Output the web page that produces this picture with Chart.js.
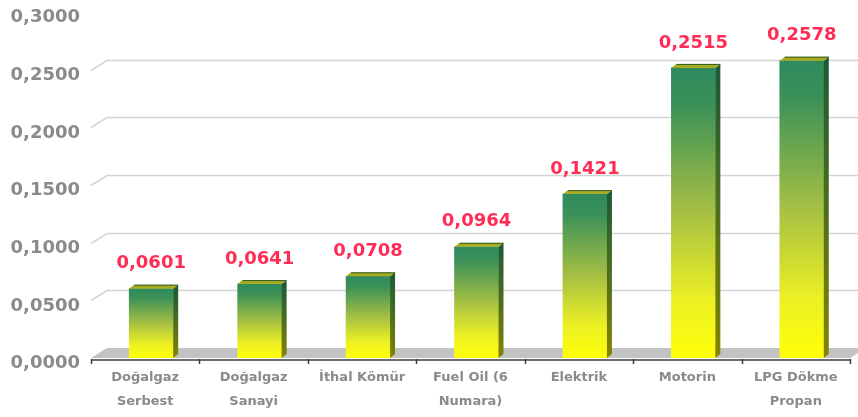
<!DOCTYPE html>
<html>
<head>
<meta charset="utf-8">
<script src="https://cdn.jsdelivr.net/npm/chart.js@4.4.1/dist/chart.umd.min.js"></script>
<style>
  html, body { margin: 0; padding: 0; background: #fff; }
  #wrap { width: 858px; height: 417px; }
</style>
</head>
<body>
<div id="wrap"><canvas id="chart" width="858" height="417"></canvas></div>
<script>
// -------------------------------
// DONNEES
// -------------------------------
const CATEGORIES = [
  ["Doğalgaz", "Serbest"],
  ["Doğalgaz", "Sanayi"],
  "İthal Kömür",
  ["Fuel Oil (6", "Numara)"],
  "Elektrik",
  "Motorin",
  ["LPG Dökme", "Propan"]
];
const VALUES = [0.0601, 0.0641, 0.0708, 0.0964, 0.1421, 0.2515, 0.2578];
const Y_MIN = 0;
const Y_MAX = 0.3;
const Y_STEP = 0.05;

// effet 3D
const DEPTH_X = 16, DEPTH_Y = 10;   // profondeur du sol / mur
const BAR_DX = 5, BAR_DY = 4;       // profondeur des barres
const SHIFT = 6;                    // décalage des barres vers la droite
const FONT = "'DejaVu Sans', Verdana, sans-serif";

function fmt(v) {
  return v.toFixed(4).replace(".", ",");
}

// degrade vert -> jaune pour chaque barre
function barGradient(c) {
  const chart = c.chart;
  if (!chart.chartArea || c.type !== "data") return "#2e8b5e";
  const y = chart.scales.y;
  const top = y.getPixelForValue(c.parsed.y);
  const bot = y.getPixelForValue(0);
  const g = chart.ctx.createLinearGradient(0, top, 0, bot);
  g.addColorStop(0, "#2e8b5e");
  g.addColorStop(0.12, "#3a9058");
  g.addColorStop(0.5, "#a6c043");
  g.addColorStop(0.8, "#ecf024");
  g.addColorStop(1, "#ffff08");
  return g;
}

// -------------------------------
// PLUGIN : mur, sol et faces 3D
// -------------------------------
const wall3d = {
  id: "wall3d",
  beforeDatasetsDraw(chart) {
    const ctx = chart.ctx;
    const area = chart.chartArea;
    const y = chart.scales.y;
    const base = y.getPixelForValue(0);

    ctx.save();
    // lignes de grille sur le mur du fond
    ctx.strokeStyle = "#d4d4d4";
    ctx.lineWidth = 1.5;
    y.ticks.forEach(t => {
      if (t.value <= Y_MIN || t.value >= Y_MAX) return;
      const py = Math.round(y.getPixelForValue(t.value)) + 0.5;
      ctx.beginPath();
      ctx.moveTo(area.left, py);
      ctx.lineTo(area.left + DEPTH_X, py - DEPTH_Y);
      ctx.lineTo(chart.width, py - DEPTH_Y);
      ctx.stroke();
    });

    // sol gris
    ctx.fillStyle = "#c3c3c3";
    ctx.beginPath();
    ctx.moveTo(area.left, base);
    ctx.lineTo(area.right, base);
    ctx.lineTo(area.right + DEPTH_X, base - DEPTH_Y);
    ctx.lineTo(area.left + DEPTH_X, base - DEPTH_Y);
    ctx.closePath();
    ctx.fill();

    // axe X et graduations
    ctx.strokeStyle = "#3c3c3c";
    ctx.lineWidth = 1.5;
    ctx.beginPath();
    ctx.moveTo(area.left, base + 2);
    ctx.lineTo(area.right, base + 2);
    const step = (area.right - area.left) / CATEGORIES.length;
    for (let i = 0; i <= CATEGORIES.length; i++) {
      const px = Math.round(area.left + i * step) + 0.5;
      ctx.moveTo(px, base + 1);
      ctx.lineTo(px, base + 6);
    }
    ctx.stroke();
    ctx.restore();

    // decaler les barres
    ctx.save();
    ctx.translate(SHIFT, 0);
  },
  afterDatasetsDraw(chart) {
    const ctx = chart.ctx;
    ctx.restore();

    const meta = chart.getDatasetMeta(0);
    meta.data.forEach((bar, i) => {
      const x0 = bar.x - bar.width / 2 + SHIFT;
      const x1 = bar.x + bar.width / 2 + SHIFT;
      const top = bar.y;
      const bot = bar.base;

      ctx.save();
      // face laterale
      const sg = ctx.createLinearGradient(0, top, 0, bot);
      sg.addColorStop(0, "#1d5a36");
      sg.addColorStop(0.5, "#4e6e1c");
      sg.addColorStop(1, "#858500");
      ctx.fillStyle = sg;
      ctx.beginPath();
      ctx.moveTo(x1, top);
      ctx.lineTo(x1 + BAR_DX, top - BAR_DY);
      ctx.lineTo(x1 + BAR_DX, bot - BAR_DY);
      ctx.lineTo(x1, bot);
      ctx.closePath();
      ctx.fill();

      // face du dessus
      ctx.fillStyle = "#a9ab1e";
      ctx.beginPath();
      ctx.moveTo(x0, top);
      ctx.lineTo(x1, top);
      ctx.lineTo(x1 + BAR_DX, top - BAR_DY);
      ctx.lineTo(x0 + BAR_DX, top - BAR_DY);
      ctx.closePath();
      ctx.fill();
      ctx.strokeStyle = "#2f5f2f";
      ctx.lineWidth = 1;
      ctx.beginPath();
      ctx.moveTo(x0 + BAR_DX, top - BAR_DY + 0.5);
      ctx.lineTo(x1 + BAR_DX, top - BAR_DY + 0.5);
      ctx.stroke();

      // valeur
      ctx.fillStyle = "#ff2d55";
      ctx.font = "bold 18px " + FONT;
      ctx.textAlign = "center";
      ctx.textBaseline = "middle";
      ctx.fillText(fmt(VALUES[i]), (x0 + x1) / 2, top - 25);
      ctx.restore();
    });
  }
};

// -------------------------------
// GRAPHIQUE
// -------------------------------
const ctx = document.getElementById("chart").getContext("2d");

new Chart(ctx, {
  type: "bar",
  data: {
    labels: CATEGORIES,
    datasets: [{
      data: VALUES,
      backgroundColor: barGradient,
      borderWidth: 0,
      barThickness: 44
    }]
  },
  options: {
    responsive: false,
    animation: false,
    devicePixelRatio: 1,
    layout: { padding: { top: 12, right: 8, left: 0, bottom: 0 } },
    plugins: {
      legend: { display: false },
      tooltip: { enabled: false }
    },
    scales: {
      x: {
        grid: { display: false, drawTicks: false },
        border: { display: false },
        ticks: {
          color: "#8a8a8a",
          padding: 8,
          maxRotation: 0,
          autoSkip: false,
          font: { family: FONT, size: 13, weight: "bold", lineHeight: "24px" }
        },
        afterFit(scale) {
          scale.height = 59;
          scale.paddingLeft = 0;
          scale.paddingRight = 0;
        }
      },
      y: {
        min: Y_MIN,
        max: Y_MAX,
        grid: { display: false, drawTicks: false },
        border: { display: false },
        ticks: {
          stepSize: Y_STEP,
          color: "#8a8a8a",
          padding: 11,
          // ligne vide en tete : descend le libelle de quelques pixels
          font: { family: FONT, size: 18, weight: "bold", lineHeight: "11px" },
          callback: v => ["", fmt(v)]
        },
        afterFit(scale) {
          scale.width = 91;
          scale.paddingTop = 0;
          scale.paddingBottom = 0;
        }
      }
    }
  },
  plugins: [wall3d]
});
</script>
</body>
</html>
